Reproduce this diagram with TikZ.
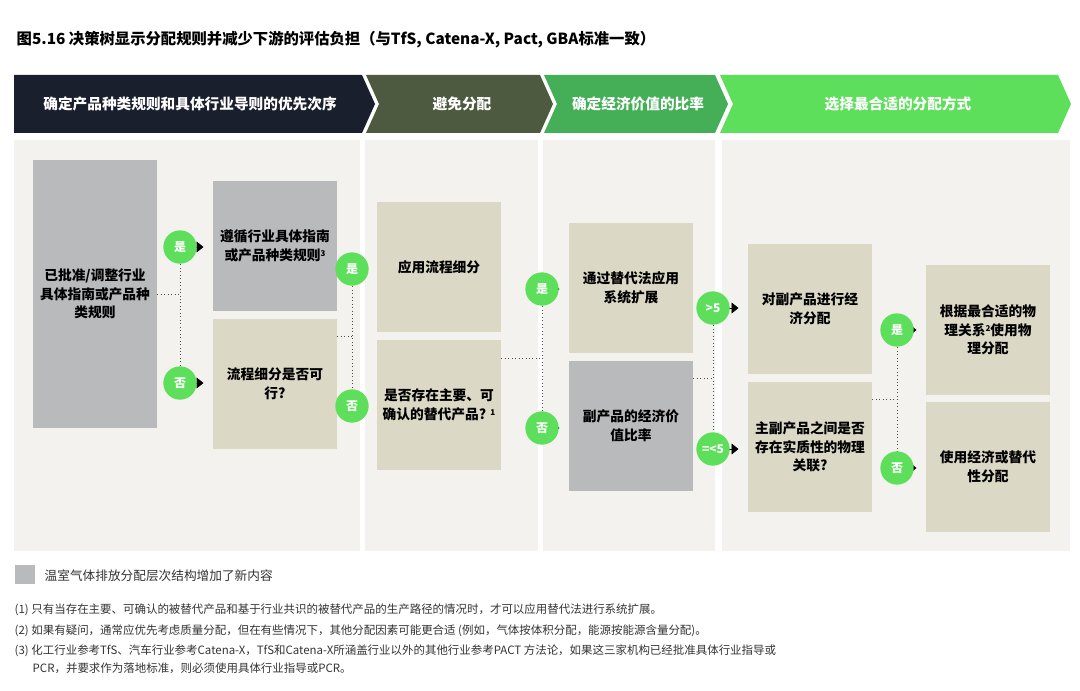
\documentclass[tikz,border=0pt]{standalone}
\usepackage{fontspec}
\setmainfont{Noto Sans CJK SC}
\usetikzlibrary{arrows.meta}
\definecolor{navy}{HTML}{1A1F2E}
\definecolor{olive}{HTML}{4E5A40}
\definecolor{midgreen}{HTML}{44AF57}
\definecolor{lightgreen}{HTML}{5DDF5B}
\definecolor{panel}{HTML}{F3F2EF}
\definecolor{greybox}{HTML}{B9BABC}
\definecolor{beige}{HTML}{DCD8C6}
\newcommand{\fnmark}[1]{\raisebox{0.5ex}{\fontsize{6}{6}\selectfont #1}}
\tikzset{
  box/.style={fill=beige, minimum width=93pt, minimum height=97.5pt, align=center, inner sep=2pt, font=\fontsize{10.3}{14}\selectfont\bfseries},
  greyed/.style={box, fill=greybox},
  choice/.style={circle, fill=lightgreen, text=white, minimum size=25pt, inner sep=0pt, font=\fontsize{9}{10}\selectfont\bfseries},
  link/.style={dotted, line width=0.6pt, black!70},
  tip/.style={-{Triangle[length=5pt,width=8pt]}, line width=0.3pt, shorten >=7pt},
  head/.style={text=white, font=\fontsize{11}{13}\selectfont\bfseries},
  note/.style={anchor=west, font=\fontsize{8.6}{11}\selectfont, text=black!80}
}
\begin{document}
\begin{tikzpicture}[x=0.75pt, y=-0.75pt]
\useasboundingbox (0,0) rectangle (1080,691);
\node[anchor=west, font=\fontsize{11.5}{14}\selectfont\bfseries] (title) at (12,40) {图5.16 决策树显示分配规则并减少下游的评估负担（与TfS, Catena-X, Pact, GBA标准一致）};
% header band
\fill[navy] (14,75) -- (362,75) -- (375,104) -- (362,133) -- (14,133) -- cycle;
\fill[olive] (366,75) -- (540,75) -- (553,104) -- (540,133) -- (366,133) -- (379,104) -- cycle;
\fill[midgreen] (544,75) -- (715,75) -- (728,104) -- (715,133) -- (544,133) -- (557,104) -- cycle;
\fill[lightgreen] (720,75) -- (1058,75) -- (1071,104) -- (1058,133) -- (720,133) -- (733,104) -- cycle;
\node[head] (h1) at (190,104) {确定产品种类规则和具体行业导则的优先次序};
\node[head] (h2) at (462,104) {避免分配};
\node[head] (h3) at (638,104) {确定经济价值的比率};
\node[head] (h4) at (898,104) {选择最合适的分配方式};
% panels
\fill[panel] (14,140) rectangle (360,551);
\fill[panel] (365,140) rectangle (538,551);
\fill[panel] (543,140) rectangle (715,551);
\fill[panel] (722,140) rectangle (1070,551);
% boxes
\node[greyed, minimum height=201pt] (a) at (95,294) {已批准/调整行业\\具体指南或产品种\\类规则};
\node[greyed] (b) at (275,246) {遵循行业具体指南\\或产品种类规则\fnmark{3}};
\node[box] (c) at (275,384) {流程细分是否可\\行?};
\node[box] (d) at (439,267) {应用流程细分};
\node[box] (e) at (439,405) {是否存在主要、可\\确认的替代产品? \fnmark{1}};
\node[box] (f) at (631,288) {通过替代法应用\\系统扩展};
\node[greyed] (g) at (631,426) {副产品的经济价\\值比率};
\node[box] (h) at (810,309) {对副产品进行经\\济分配};
\node[box] (i) at (810,447) {主副产品之间是否\\存在实质性的物理\\关联?};
\node[box] (j) at (988,330) {根据最合适的物\\理关系\fnmark{2}使用物\\理分配};
\node[box] (k) at (988,467) {使用经济或替代\\性分配};
% choices
\foreach \n/\t/\px/\py in {c1/是/180/247, c2/否/180/383, c3/是/352/269, c4/否/352/406,
  c5/是/542/289, c6/否/542/428, c7/>5/713/308, c8/=<5/713/449, c9/是/897/330, c10/否/897/468}
  \coordinate (\n) at (\px,\py);
% dotted joins
\draw[link] (a.east) -- (a.east -| c1) (c1) -- (c2);
\draw[link] ([yshift=-13pt]c.north east) -- ([yshift=-13pt]c.north east -| c3) (c3) -- (c4);
\draw[link] ([yshift=-14pt]e.north east) -- ([yshift=-14pt]e.north east -| c5) (c5) -- (c6);
\draw[link] ([yshift=-13pt]g.north east) -- ([yshift=-13pt]g.north east -| c7) (c7) -- (c8);
\draw[link] ([yshift=-13pt]i.north east) -- ([yshift=-13pt]i.north east -| c9) (c9) -- (c10);
% arrows
\draw[tip] (c1) -- (c1 -| b.west);
\draw[tip] (c2) -- (c2 -| c.west);
\draw[tip] (c3) -- (c3 -| d.west);
\draw[tip] (c4) -- (c4 -| e.west);
\draw[tip] (c5) -- (c5 -| f.west);
\draw[tip] (c6) -- (c6 -| g.west);
\draw[tip] (c7) -- (c7 -| h.west);
\draw[tip] (c8) -- (c8 -| i.west);
\draw[tip] (c9) -- (c9 -| j.west);
\draw[tip] (c10) -- (c10 -| k.west);
\foreach \n/\t in {c1/是, c2/否, c3/是, c4/否, c5/是, c6/否, c7/>5, c8/=<5, c9/是, c10/否}
  \node[choice] (\n-label) at (\n) {\t};
% legend and notes
\fill[greybox] (15,565) rectangle (35,584);
\node[note, font=\fontsize{9.5}{11}\selectfont] (legend) at (40,576) {温室气体排放分配层次结构增加了新内容};
\node[note] (n1) at (10,610) {(1) 只有当存在主要、可确认的被替代产品和基于行业共识的被替代产品的生产路径的情况时，才可以应用替代法进行系统扩展。};
\node[note] (n2) at (10,631) {(2) 如果有疑问，通常应优先考虑质量分配，但在有些情况下，其他分配因素可能更合适 (例如，气体按体积分配，能源按能源含量分配)。};
\node[note] (n3) at (10,651) {(3) 化工行业参考TfS、汽车行业参考Catena-X，TfS和Catena-X所涵盖行业以外的其他行业参考PACT 方法论，如果这三家机构已经批准具体行业指导或};
\node[note] (n4) at (28,668) {PCR，并要求作为落地标准，则必须使用具体行业指导或PCR。};
\end{tikzpicture}
\end{document}
